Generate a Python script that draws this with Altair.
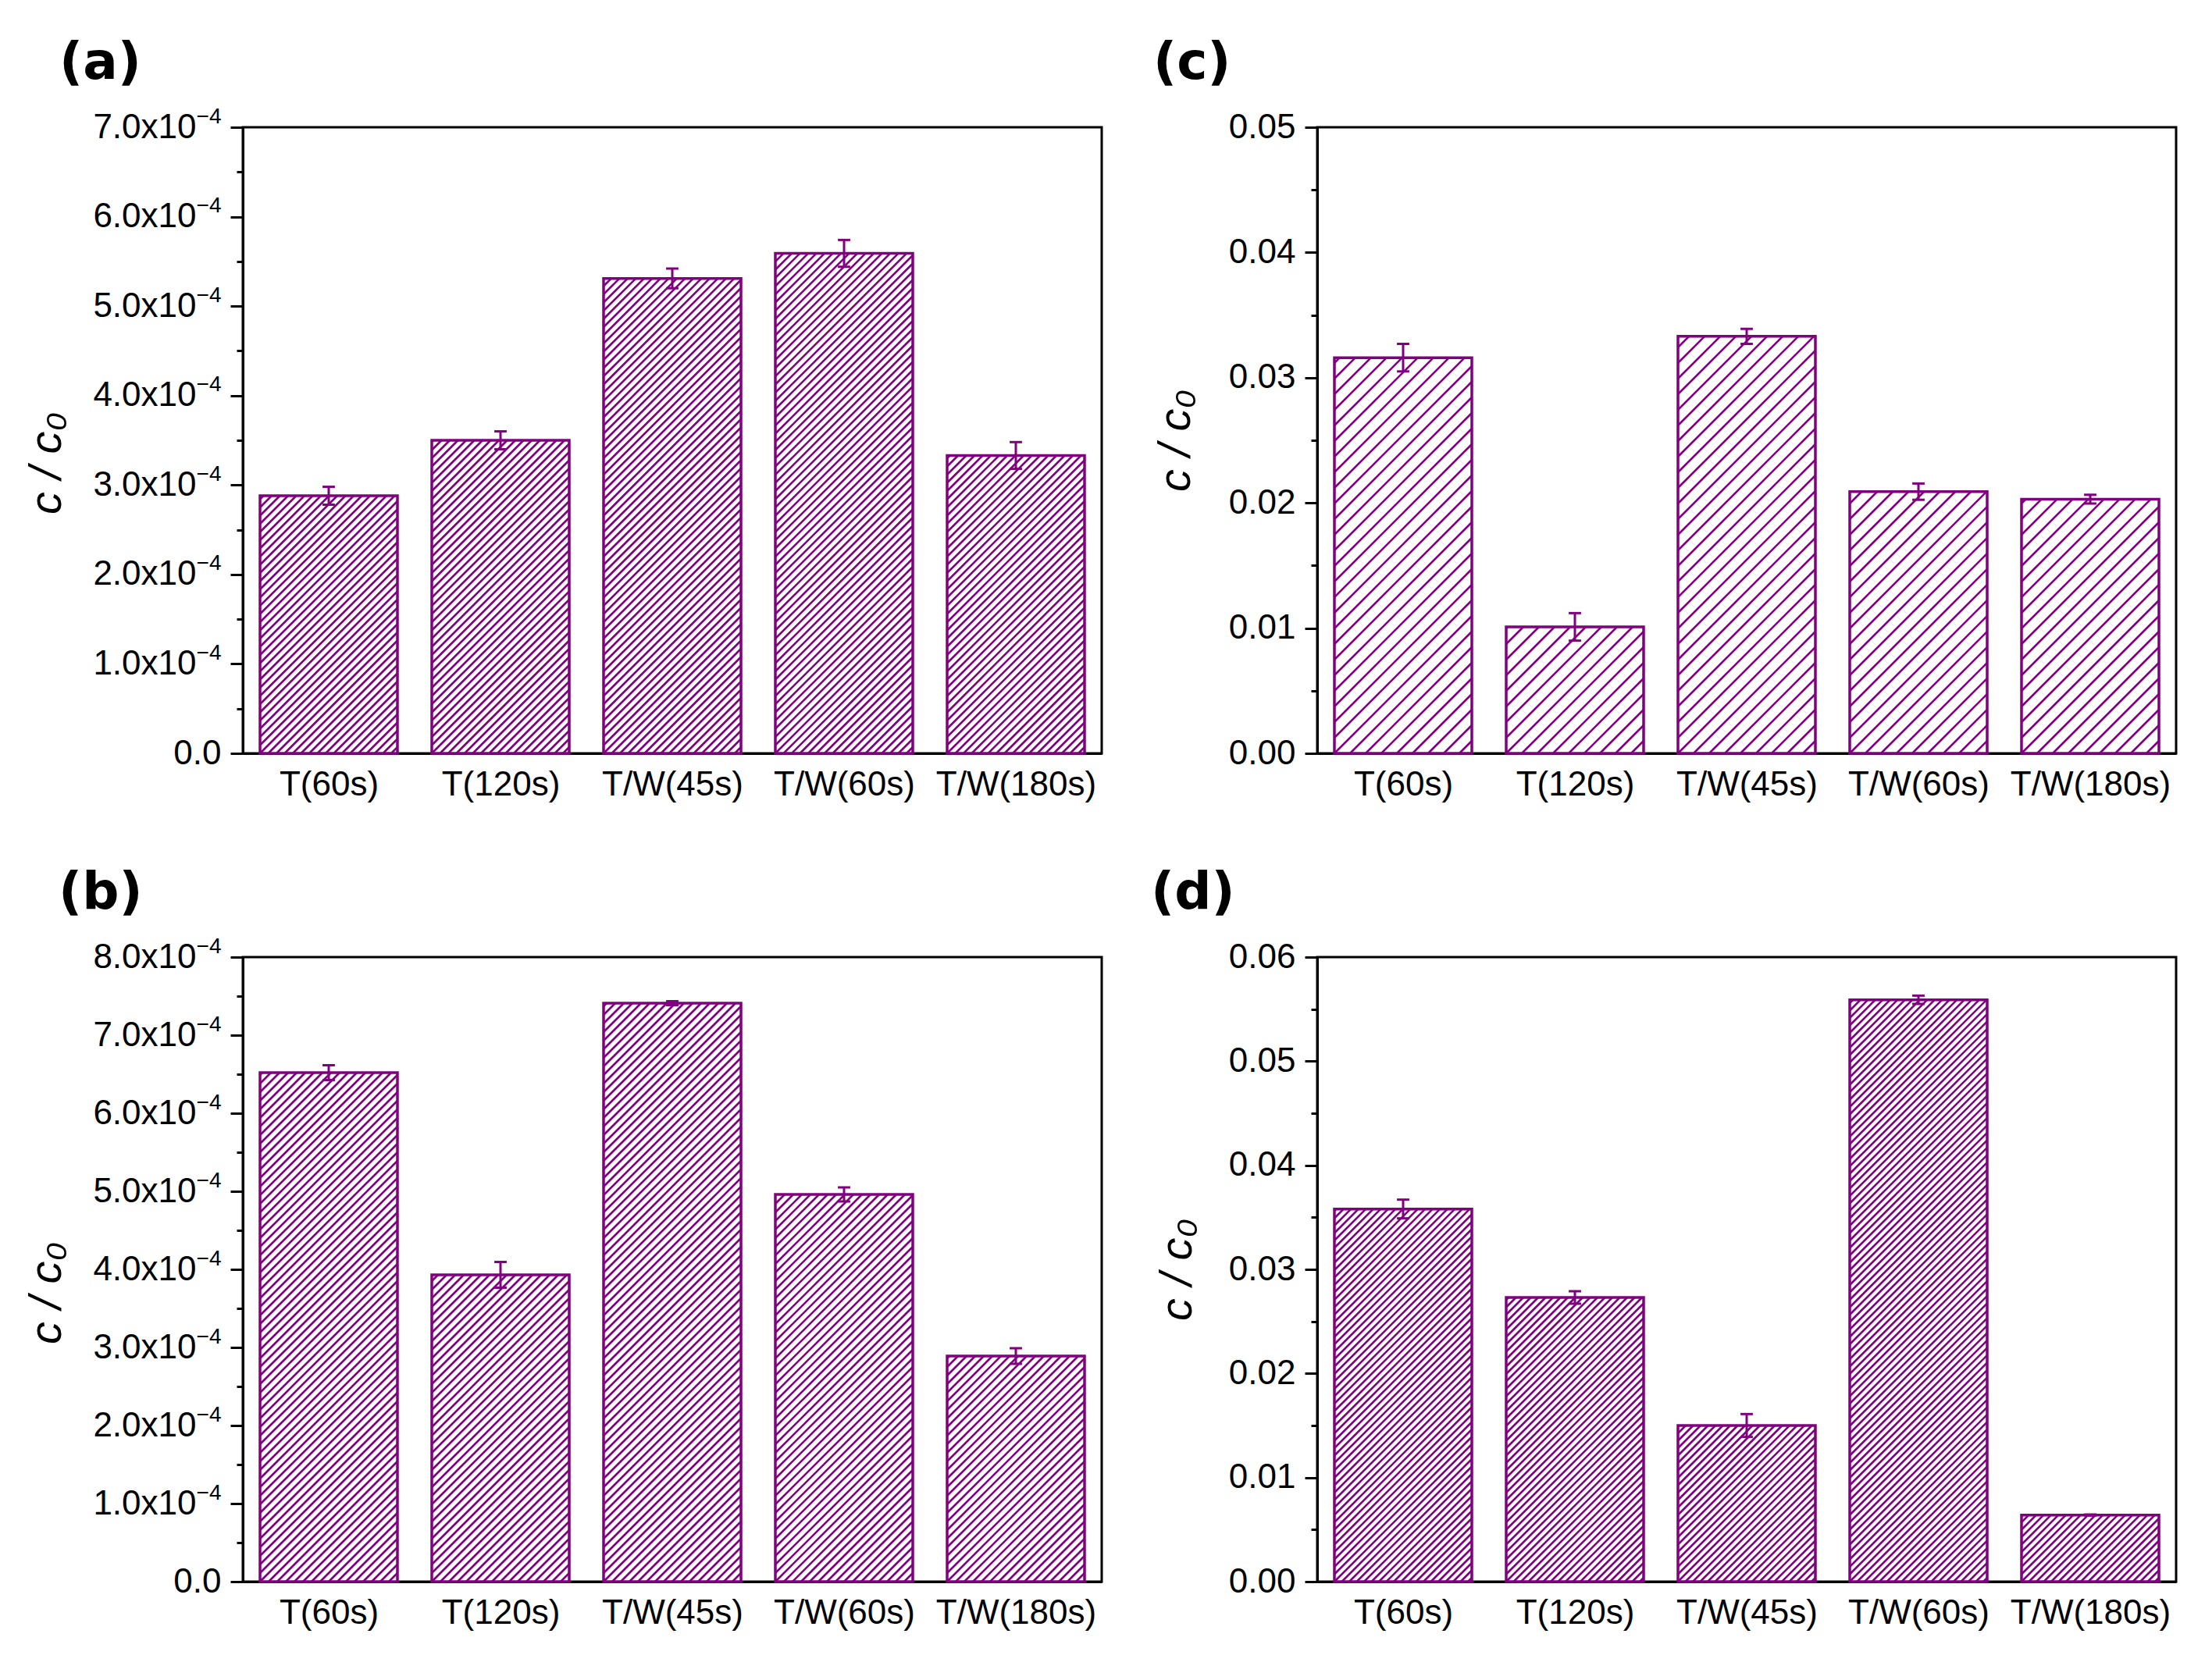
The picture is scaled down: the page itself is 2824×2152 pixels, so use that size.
import altair as alt
import pandas as pd
import math

# ---------------- data ----------------
categories = ["T(60s)", "T(120s)", "T/W(45s)", "T/W(60s)", "T/W(180s)"]

a_vals = [2.88e-4, 3.50e-4, 5.31e-4, 5.59e-4, 3.33e-4]
a_errs = [0.10e-4, 0.10e-4, 0.11e-4, 0.15e-4, 0.15e-4]

b_vals = [6.52e-4, 3.93e-4, 7.41e-4, 4.96e-4, 2.89e-4]
b_errs = [0.095e-4, 0.165e-4, 0.025e-4, 0.09e-4, 0.10e-4]

c_vals = [0.0316, 0.0101, 0.0333, 0.0209, 0.0203]
c_errs = [0.0011, 0.0011, 0.0006, 0.00065, 0.00035]

d_vals = [0.0358, 0.0273, 0.0150, 0.0559, 0.0064]
d_errs = [0.0009, 0.0006, 0.0011, 0.0004, 0.00005]

# ---------------- style ----------------
PURPLE = "#800080"
FONT = "Liberation Sans"
PANEL_FONT = "DejaVu Sans"
PW = 1100          # plot width of each panel
N = len(categories)
BAR_FRAC = 0.8
CAP_HALF = 0.036
LABEL_FS = 44
SUP_FS = 28
SUP_W = 32


def panel(letter, vals, errs, ymax, major, height, hatch_px, sci, dx, toff,
          title_x, title_y):
    pos = [i + 0.5 for i in range(N)]
    left = [i + (1 - BAR_FRAC) / 2 for i in range(N)]
    right = [i + 1 - (1 - BAR_FRAC) / 2 for i in range(N)]
    df = pd.DataFrame({
        "cat": categories,
        "pos": pos,
        "left": left,
        "right": right,
        "val": vals,
        "zero": [0.0] * N,
        "lo": [v - e for v, e in zip(vals, errs)],
        "hi": [v + e for v, e in zip(vals, errs)],
        "capl": [p - CAP_HALF for p in pos],
        "capr": [p + CAP_HALF for p in pos],
    })

    # hatch lines ("/") inside each bar, derived from the bar values
    ppx = PW / N
    ppy = height / ymax
    W = BAR_FRAC * ppx
    rows = []
    for i, v in enumerate(vals):
        H = v * ppy
        k0 = math.ceil(-H / hatch_px)
        k1 = math.floor(W / hatch_px)
        for k in range(k0, k1 + 1):
            c = k * hatch_px
            xs = max(0.0, c)
            xe = min(W, H + c)
            if xe - xs < 0.5:
                continue
            rows.append({
                "hx": left[i] + xs / ppx, "hy": (xs - c) / ppy,
                "hx2": left[i] + xe / ppx, "hy2": (xe - c) / ppy,
            })
    hdf = pd.DataFrame(rows)

    nmaj = int(round(ymax / major))
    tick_vals = [k * major / 2 for k in range(0, 2 * nmaj + 1)]
    maj_vals = [k * major for k in range(0, nmaj + 1)]
    f = 1.0 / major
    is_major = f"abs(datum.value*{f} - round(datum.value*{f})) < 0.01"
    if sci:
        lab = (f"{is_major} ? (datum.value == 0 ? '0.0' : "
               f"format(datum.value*1e4, '.1f') + 'x10') : ''")
        lab_pad = {"condition": {"test": "datum.value == 0", "value": 12},
                   "value": 12 + SUP_W}
    else:
        lab = f"{is_major} ? format(datum.value, '.2f') : ''"
        lab_pad = 12

    xscale = alt.Scale(domain=[0, N], nice=False, zero=False)
    yscale = alt.Scale(domain=[0, ymax], nice=False)

    cat_arr = "[" + ",".join("'" + c + "'" for c in categories) + "]"
    xaxis = alt.Axis(
        values=pos, labelExpr=f"{cat_arr}[round(datum.value - 0.5)]",
        ticks=False, grid=False, title=None, domainWidth=3, domainColor="black",
        labelFont=FONT, labelFontSize=LABEL_FS, labelColor="black", labelPadding=18,
        labelFlush=False, labelOverlap=False, labelLimit=0,
    )
    yaxis = alt.Axis(
        values=tick_vals, labelExpr=lab,
        tickSize={"condition": {"test": is_major, "value": 16}, "value": 8},
        tickWidth=3, tickColor="black", domainWidth=3, domainColor="black",
        grid=False, labelFont=FONT, labelFontSize=LABEL_FS, labelColor="black",
        labelPadding=lab_pad, labelOverlap=False, labelFlush=False, labelLimit=0,
        title="c / c\u2080", titleFont=FONT, titleFontSize=58,
        titleFontStyle="italic", titleFontWeight="normal", titleColor="black",
        titleX=title_x, titleY=title_y, titleAngle=270,
        titleBaseline="bottom", titleAlign="center",
    )

    def Y(field, axis_spec="none"):
        if sci:
            return alt.Y(field, scale=yscale, axis=axis_spec if axis_spec != "none" else None)
        return alt.Y(field, scale=yscale)

    base = alt.Chart(df)
    fill = base.mark_rect(fill="white", stroke=None).encode(
        x=alt.X("left:Q", scale=xscale, axis=xaxis),
        x2="right:Q",
        y=alt.Y("val:Q", scale=yscale, axis=yaxis),
        y2="zero:Q",
    )
    hatch = alt.Chart(hdf).mark_rule(color=PURPLE, strokeWidth=2.6, strokeCap="butt").encode(
        x=alt.X("hx:Q", scale=xscale), x2="hx2:Q",
        y=Y("hy:Q"), y2="hy2:Q",
    )
    outline = base.mark_rect(fill=None, stroke=PURPLE, strokeWidth=3.5).encode(
        x=alt.X("left:Q", scale=xscale), x2="right:Q",
        y=Y("val:Q"), y2="zero:Q",
    )
    if sci:
        sup_axis = alt.Axis(
            values=maj_vals[1:], labelExpr="'\u22124'", orient="left",
            ticks=True, tickSize=16, tickOpacity=0, domain=False, grid=False,
            labelFont=FONT, labelFontSize=SUP_FS, labelColor="black",
            labelPadding=12, labelBaseline="alphabetic", labelOffset=-6,
            labelOverlap=False, labelFlush=False, labelLimit=0, title=None,
        )
        err_y = Y("lo:Q", sup_axis)
    else:
        err_y = Y("lo:Q")
    err = base.mark_rule(color=PURPLE, strokeWidth=3).encode(
        x=alt.X("pos:Q", scale=xscale),
        y=err_y, y2="hi:Q",
    )
    cap_hi = base.mark_rule(color=PURPLE, strokeWidth=3).encode(
        x=alt.X("capl:Q", scale=xscale), x2="capr:Q",
        y=Y("hi:Q"),
    )
    cap_lo = base.mark_rule(color=PURPLE, strokeWidth=3).encode(
        x=alt.X("capl:Q", scale=xscale), x2="capr:Q",
        y=Y("lo:Q"),
    )
    lay = alt.layer(fill, hatch, outline, err, cap_hi, cap_lo)
    if sci:
        lay = lay.resolve_axis(y="independent")
    return lay.properties(
        width=PW, height=height,
        title=alt.TitleParams(
            f"({letter})", anchor="start", frame="group", orient="top",
            font=PANEL_FONT, fontSize=66, fontWeight="bold", color="black",
            baseline="alphabetic", dx=dx, offset=toff,
        ),
    )


pa = panel("a", a_vals, a_errs, 7e-4, 1e-4, 802, 10.5, True, -235, -32, -222, 430)
pc = panel("c", c_vals, c_errs, 0.05, 0.01, 802, 20.0, False, -210, -26, -152, 401)
pb = panel("b", b_vals, b_errs, 8e-4, 1e-4, 800, 11.0, True, -236, -32, -222, 430)
pd_ = panel("d", d_vals, d_errs, 0.06, 0.01, 800, 9.5, False, -213, -26, -150, 400)

chart = alt.concat(
    pa, pc, pb, pd_, columns=2,
    spacing={"row": 261, "column": 276}, bounds="flush",
).properties(
    padding={"left": 21, "top": 38, "right": 10, "bottom": 10},
).configure_view(
    stroke="black", strokeWidth=3,
)

chart.save("out.html", embed_options={"renderer": "svg", "actions": False})
